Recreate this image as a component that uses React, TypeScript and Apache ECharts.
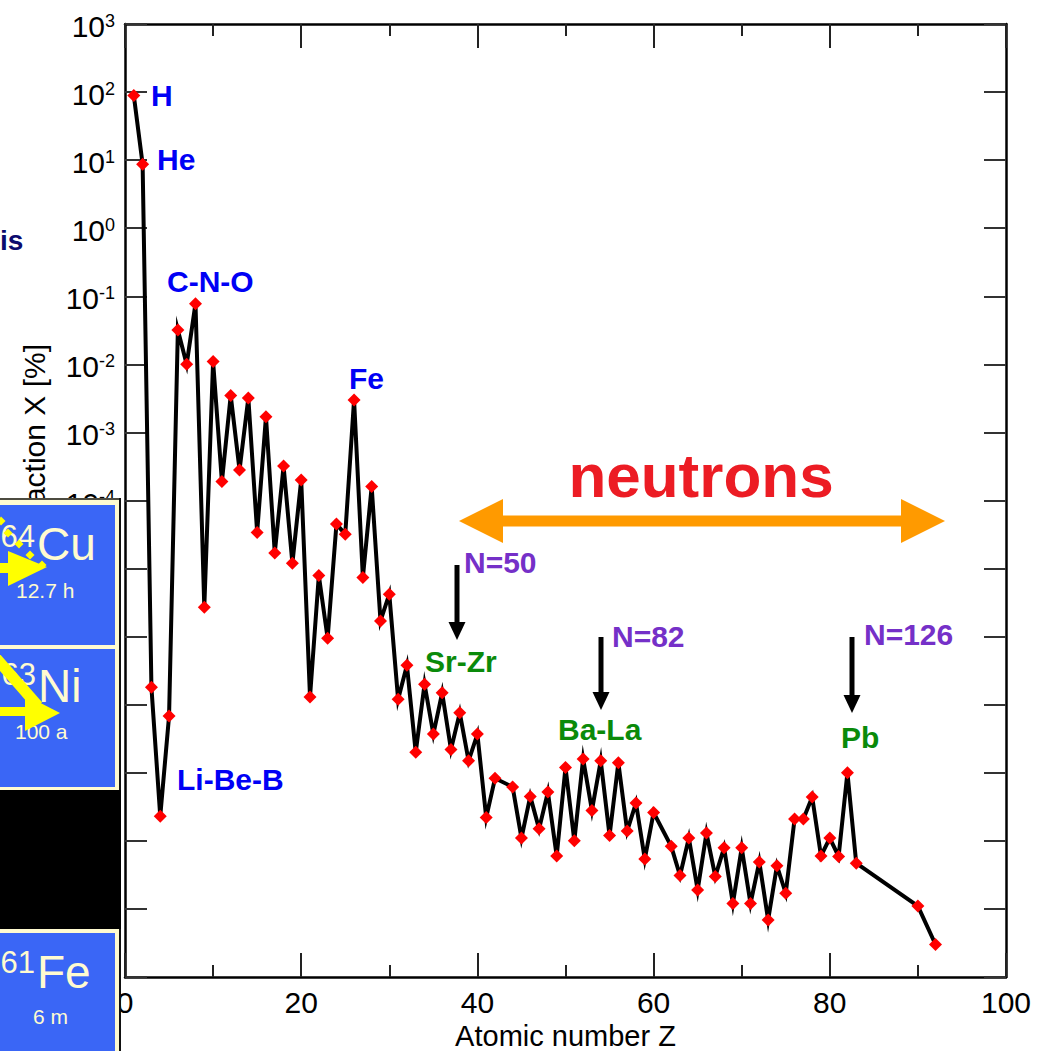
import React, { useEffect, useRef } from "react";
import * as echarts from "echarts";

// Atomic number Z of plotted elements (Tc, Pm, 84-89, 91 absent)
const Z = [1, 2, 3, 4, 5, 6, 7, 8, 9, 10, 11, 12, 13, 14, 15, 16, 17, 18, 19, 20,
  21, 22, 23, 24, 25, 26, 27, 28, 29, 30, 31, 32, 33, 34, 35, 36, 37, 38, 39, 40,
  41, 42, 44, 45, 46, 47, 48, 49, 50, 51, 52, 53, 54, 55, 56, 57, 58, 59, 60,
  62, 63, 64, 65, 66, 67, 68, 69, 70, 71, 72, 73, 74, 75, 76, 77, 78, 79, 80,
  81, 82, 83, 90, 92];

// Mass fraction X [%]
const X = [89, 8.7, 1.8e-7, 2.3e-9, 6.8e-8, 3.2e-2, 1.0e-2, 7.8e-2, 2.7e-6, 1.1e-2,
  1.9e-4, 3.5e-3, 2.8e-4, 3.2e-3, 3.4e-5, 1.7e-3, 1.7e-5, 3.2e-4, 1.2e-5, 2.0e-4,
  1.3e-7, 7.9e-6, 9.5e-7, 4.5e-5, 3.2e-5, 3.0e-3, 7.4e-6, 1.6e-4, 1.7e-6, 4.2e-6,
  1.2e-7, 3.8e-7, 2.0e-8, 2.0e-7, 3.7e-8, 1.5e-7, 2.2e-8, 7.6e-8, 1.5e-8, 3.7e-8,
  2.2e-9, 8.3e-9, 6.2e-9, 1.1e-9, 4.5e-9, 1.5e-9, 5.2e-9, 6.0e-10, 1.2e-8, 1.0e-9,
  1.6e-8, 2.8e-9, 1.5e-8, 1.2e-9, 1.4e-8, 1.4e-9, 3.6e-9, 5.4e-10, 2.6e-9,
  8.3e-10, 3.1e-10, 1.1e-9, 1.9e-10, 1.3e-9, 3.0e-10, 7.9e-10, 1.2e-10, 7.9e-10,
  1.2e-10, 4.9e-10, 6.9e-11, 4.3e-10, 1.7e-10, 2.1e-9, 2.1e-9, 4.4e-9, 6.0e-10,
  1.1e-9, 5.9e-10, 1.0e-8, 4.7e-10, 1.1e-10, 3.0e-11];

const X_TICKS = [0, 20, 40, 60, 80, 100];
// decade ticks of the log axis, 10^-11 ... 10^3
const Y_TICKS = [1e-11, 1e-10, 1e-9, 1e-8, 1e-7, 1e-6, 1e-5, 1e-4, 1e-3, 1e-2, 1e-1, 1, 1e1, 1e2, 1e3];
// tick labels that are not hidden behind the inset panel
const Y_LABELS = [1e-4, 1e-3, 1e-2, 1e-1, 1, 1e1, 1e2, 1e3];

const FONT = '"Liberation Sans", Arial, Helvetica, sans-serif';
const CREAM = "#fffbd0";
const BLUE = "#3a66f6";
const YELLOW = "#ffff00";

function txt(text: string, x: number, y: number, o: any = {}) {
  return {
    type: "text",
    x,
    y,
    z: o.z ?? 100,
    rotation: o.rotation ?? 0,
    style: {
      text,
      fill: o.fill ?? "#000",
      fontSize: o.size ?? 30,
      fontWeight: o.weight ?? "normal",
      fontFamily: FONT,
      textAlign: o.align ?? "left",
      textVerticalAlign: "middle",
      verticalAlign: "middle",
    },
  };
}
function rect(x: number, y: number, w: number, h: number, fill: string, z = 100) {
  return { type: "rect", z, shape: { x, y, width: w, height: h }, style: { fill } };
}
function poly(points: number[][], fill: string, z = 100) {
  return { type: "polygon", z, shape: { points }, style: { fill } };
}
function seg(x1: number, y1: number, x2: number, y2: number, stroke: string, w: number, z = 100) {
  return { type: "line", z, shape: { x1, y1, x2, y2 }, style: { stroke, lineWidth: w } };
}
function diamond(cx: number, cy: number, r: number) {
  return poly([[cx, cy - r], [cx + r, cy], [cx, cy + r], [cx - r, cy]], YELLOW, 101);
}
function downArrow(x: number, y1: number, y2: number) {
  return [
    seg(x, y1, x, y2 - 14, "#000", 5, 60),
    poly([[x - 8.5, y2 - 18], [x + 8.5, y2 - 18], [x, y2]], "#000", 60),
  ];
}

const BLUE_T = "#0000f5";
const GREEN_T = "#0a8a0a";
const PURPLE_T = "#7530c8";

export default function App() {
  const ref = useRef<HTMLDivElement>(null);
  useEffect(() => {
    if (!ref.current) return;
    const chart = echarts.init(ref.current, undefined, { renderer: "svg" });

    const axisLine = { show: true, onZero: false, lineStyle: { color: "#000", width: 2.5 } };
    const xTick = { show: true, inside: true, length: 24, lineStyle: { color: "#222", width: 2 } };
    const xMinor = { show: true, splitNumber: 2, length: 12, lineStyle: { color: "#222", width: 2 } };
    const yTick = { show: true, inside: true, length: 22, customValues: Y_TICKS, lineStyle: { color: "#333", width: 2 } };

    const graphic: any[] = [
      // y-axis title (partly hidden by the overlay panel)
      txt("Mass fraction X [%]", 34, 344, { rotation: Math.PI / 2, align: "right", size: 30, z: 50 }),
      txt("is", 0, 240, { fill: "#0b0b6e", weight: "bold", size: 28, z: 50 }),
      // element labels
      txt("H", 151, 95, { fill: BLUE_T, weight: "bold", z: 60 }),
      txt("He", 157, 159, { fill: BLUE_T, weight: "bold", z: 60 }),
      txt("C-N-O", 167, 281, { fill: BLUE_T, weight: "bold", z: 60 }),
      txt("Li-Be-B", 177, 779, { fill: BLUE_T, weight: "bold", z: 60 }),
      txt("Fe", 349, 378, { fill: BLUE_T, weight: "bold", z: 60 }),
      txt("Sr-Zr", 425, 661, { fill: GREEN_T, weight: "bold", z: 60 }),
      txt("Ba-La", 558, 729, { fill: GREEN_T, weight: "bold", z: 60 }),
      txt("Pb", 841, 737, { fill: GREEN_T, weight: "bold", z: 60 }),
      txt("N=50", 464, 562, { fill: PURPLE_T, weight: "bold", z: 60 }),
      txt("N=82", 612, 636, { fill: PURPLE_T, weight: "bold", z: 60 }),
      txt("N=126", 864, 634, { fill: PURPLE_T, weight: "bold", z: 60 }),
      ...downArrow(457, 565, 640),
      ...downArrow(601, 637, 710),
      ...downArrow(852, 637, 713),
      // neutrons double arrow
      rect(500, 515.5, 404, 11, "#ff9a00", 60),
      poly([[459, 521], [503, 499], [503, 543]], "#ff9a00", 60),
      poly([[945, 521], [901, 499], [901, 543]], "#ff9a00", 60),
      txt("neutrons", 701, 475, { fill: "#ec1c24", weight: "bold", size: 62, align: "center", z: 60 }),
      // overlay panel (nuclide chart excerpt)
      rect(0, 498, 120, 553, CREAM),
      seg(120, 498, 120, 1051, "#111", 2),
      seg(0, 499, 121, 499, "#111", 1.5),
      rect(0, 505, 115, 140, BLUE),
      rect(0, 649, 115, 138, BLUE),
      rect(0, 790, 121, 139, "#000"),
      rect(0, 933, 115, 118, BLUE),
      txt("64", 35, 536, { fill: CREAM, size: 31, align: "right" }),
      txt("Cu", 37, 544, { fill: CREAM, size: 46 }),
      txt("12.7 h", 16, 590, { fill: CREAM, size: 21 }),
      txt("63", 36, 674, { fill: CREAM, size: 31, align: "right" }),
      txt("Ni", 38, 686, { fill: CREAM, size: 46 }),
      txt("100 a", 15, 731, { fill: CREAM, size: 21 }),
      txt("61", 35, 962, { fill: CREAM, size: 31, align: "right" }),
      txt("Fe", 37, 972, { fill: CREAM, size: 46 }),
      txt("6 m", 33, 1016, { fill: CREAM, size: 21 }),
      // yellow decay arrows
      diamond(1, 521, 4.5),
      diamond(8, 533, 4.5),
      diamond(19, 544, 4.5),
      diamond(30, 555, 4.5),
      diamond(42, 565, 4.5),
      rect(0, 563, 10, 10, YELLOW, 101),
      poly([[8, 551], [47, 567], [8, 586]], YELLOW, 101),
      seg(-5, 657, 38, 706, YELLOW, 11, 101),
      rect(0, 707, 27, 9, YELLOW, 101),
      poly([[25, 695], [60, 713], [25, 731]], YELLOW, 101),
    ];

    const yAxisBase = {
      type: "log",
      logBase: 10,
      min: Y_TICKS[0],
      max: Y_TICKS[Y_TICKS.length - 1],
      axisLine,
      axisTick: yTick,
      splitLine: { show: false },
      minorTick: { show: false },
    };

    const option: any = {
      animation: false,
      backgroundColor: "#ffffff",
      textStyle: { fontFamily: FONT },
      grid: { left: 125, right: 37, top: 24, bottom: 74, containLabel: false, outerBoundsMode: "none" },
      xAxis: [
        {
          type: "value",
          position: "bottom",
          min: X_TICKS[0],
          max: X_TICKS[X_TICKS.length - 1],
          interval: X_TICKS[1] - X_TICKS[0],
          axisLine,
          axisTick: xTick,
          minorTick: xMinor,
          splitLine: { show: false },
          axisLabel: { margin: 10, fontSize: 30, color: "#000", fontFamily: FONT },
          name: "Atomic number Z",
          nameLocation: "middle",
          nameGap: 40,
          nameTextStyle: { fontSize: 29, lineHeight: 29, color: "#000", fontFamily: FONT },
        },
        {
          type: "value",
          position: "top",
          min: X_TICKS[0],
          max: X_TICKS[X_TICKS.length - 1],
          interval: X_TICKS[1] - X_TICKS[0],
          axisLine,
          axisTick: xTick,
          minorTick: xMinor,
          splitLine: { show: false },
          axisLabel: { show: false },
        },
      ],
      yAxis: [
        {
          ...yAxisBase,
          position: "left",
          axisLabel: {
            margin: 10,
            customValues: Y_LABELS,
            padding: [5, 0, 0, 0],
            formatter: (v: number) => `{b|10}{e|${Math.round(Math.log10(v))}}`,
            rich: {
              b: { fontSize: 30, lineHeight: 30, padding: [9, 0, 0, 0], verticalAlign: "bottom", color: "#000", fontFamily: FONT },
              e: { fontSize: 18, lineHeight: 18, verticalAlign: "top", color: "#000", fontFamily: FONT },
            },
          },
        },
        {
          ...yAxisBase,
          position: "right",
          axisLabel: { show: false },
        },
      ],
      series: [
        {
          type: "line",
          name: "Solar abundance",
          data: Z.map((z, i) => [z, X[i]]),
          xAxisIndex: 0,
          yAxisIndex: 0,
          symbol: "diamond",
          symbolSize: 13,
          itemStyle: { color: "#ff0000" },
          lineStyle: { color: "#000", width: 4, join: "miter", miterLimit: 8 },
          z: 3,
        },
      ],
      graphic,
    };
    chart.setOption(option);
    return () => chart.dispose();
  }, []);
  return <div ref={ref} style={{ width: 1043, height: 1051, position: "absolute", left: 0, top: 0 }} />;
}
